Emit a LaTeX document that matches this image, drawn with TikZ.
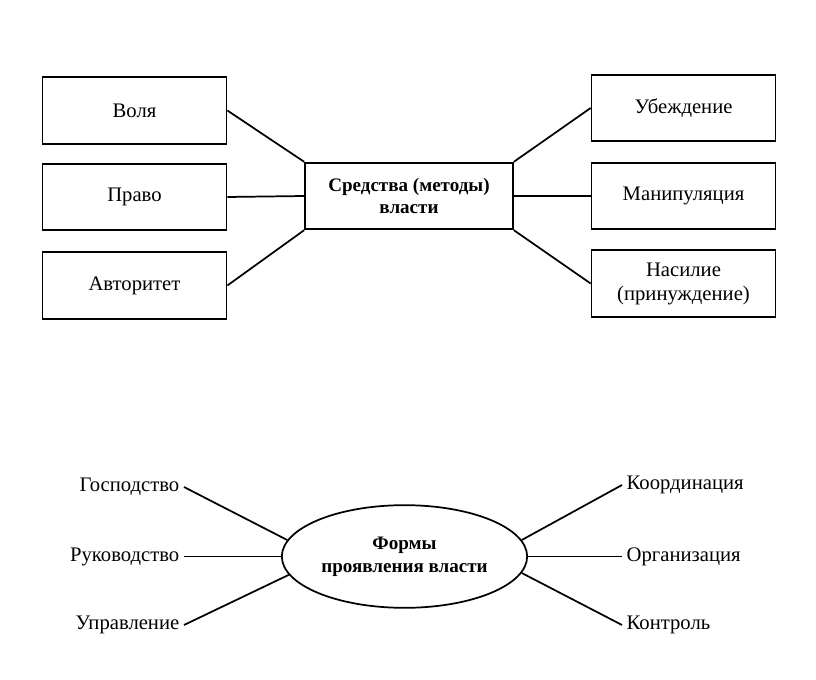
\documentclass[tikz,border=0pt]{standalone}
\usepackage{fontspec}
\setmainfont{Liberation Serif}
\usetikzlibrary{shapes.geometric, positioning}
\tikzstyle{sidebox} = [rectangle, minimum width=138pt, minimum height=50pt, text centered, align=center, draw=black, line width=1.3pt, font=\fontsize{15.5}{17}\selectfont]
\tikzstyle{meansbox} = [rectangle, minimum width=156pt, minimum height=50pt, align=center, draw=black, line width=1.3pt, font=\fontsize{14.3}{17}\selectfont\bfseries]
\tikzstyle{formsoval} = [ellipse, minimum width=184pt, minimum height=77pt, inner sep=0pt, align=center, draw=black, line width=1.3pt, font=\fontsize{14.3}{17}\selectfont\bfseries]
\tikzstyle{formtext} = [font=\fontsize{15.5}{17}\selectfont]
\tikzstyle{link} = [line width=1.3pt]

\begin{document}
\begin{tikzpicture}[x=0.75pt, y=-0.75pt]
    \useasboundingbox (0,0) rectangle (816,680);
    % upper diagram: means of power
    \node (means) [meansbox] at (409,196) {Средства (методы)\\власти};
    \node (volya) [sidebox] at (134.5,110.5) {Воля};
    \node (pravo) [sidebox] at (134.5,197) {Право};
    \node (avtoritet) [sidebox] at (134.5,285.5) {Авторитет};
    \node (ubezhd) [sidebox] at (683.5,108) {Убеждение};
    \node (manip) [sidebox] at (683.5,196) {Манипуляция};
    \node (nasil) [sidebox, font=\fontsize{15.5}{18}\selectfont] at (683.5,283.5) {Насилие\\(принуждение)};
    \draw [link] (volya.east) -- (means.north west);
    \draw [link] (pravo.east) -- (means.west);
    \draw [link] (avtoritet.east) -- (means.south west);
    \draw [link] (ubezhd.west) -- (means.north east);
    \draw [link] (manip.west) -- (means.east);
    \draw [link] (nasil.west) -- (means.south east);
    % lower diagram: forms of power
    \node (forms) [formsoval] at (404.5,556.5) {Формы\\проявления власти};
    \node (gospod) [formtext, anchor=east] at (184,487) {Господство};
    \node (rukovod) [formtext, anchor=east] at (184,556.5) {Руководство};
    \node (uprav) [formtext, anchor=east] at (184,625) {Управление};
    \node (koord) [formtext, anchor=west] at (622,485) {Координация};
    \node (organiz) [formtext, anchor=west] at (622,556.5) {Организация};
    \node (kontrol) [formtext, anchor=west] at (622,625) {Контроль};
    \draw [link] (gospod.east) -- (forms.172);
    \draw [link] (rukovod.east) -- (forms.west);
    \draw [link] (uprav.east) -- (forms.189);
    \draw [link] (koord.west) -- (forms.8);
    \draw [link] (organiz.west) -- (forms.east);
    \draw [link] (kontrol.west) -- (forms.352);
\end{tikzpicture}
\end{document}
